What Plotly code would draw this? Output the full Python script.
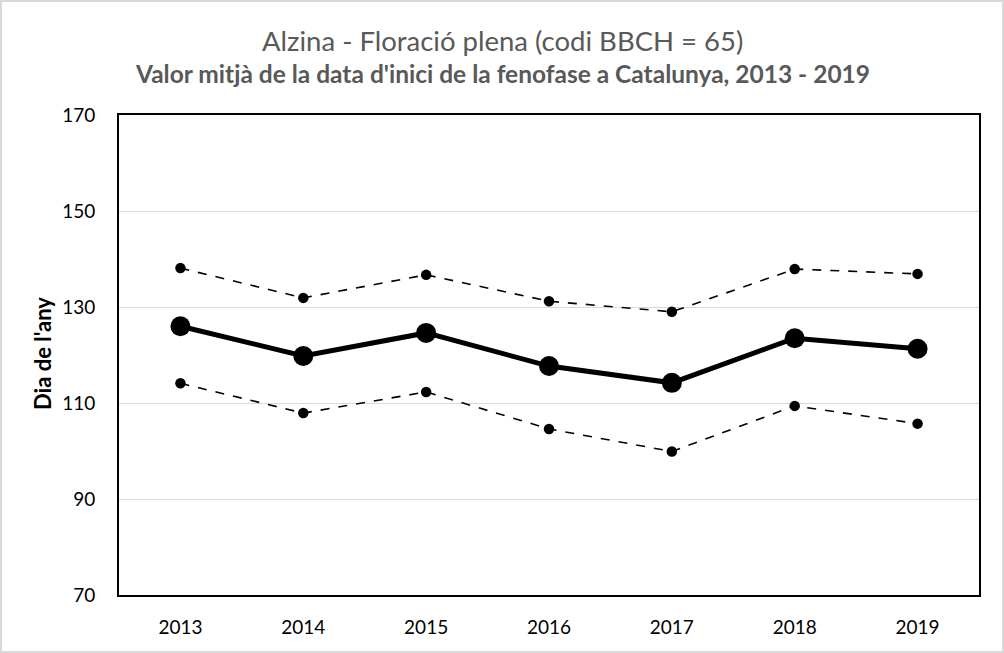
import plotly.graph_objects as go

years = ["2013", "2014", "2015", "2016", "2017", "2018", "2019"]
mean_vals = [126.0, 119.8, 124.6, 117.7, 114.2, 123.5, 121.3]
upper_vals = [138.1, 131.9, 136.7, 131.2, 129.0, 137.9, 136.9]
lower_vals = [114.1, 107.9, 112.3, 104.6, 99.9, 109.4, 105.7]
y_ticks = [70, 90, 110, 130, 150, 170]

title_text = "Alzina - Floració plena (codi BBCH = 65)"
subtitle_text = "Valor mitjà de la data d'inici de la fenofase a Catalunya, 2013 - 2019"
y_title = "Dia de l'any"

W, H = 1004, 653
ml, mr, mt, mb = 119, 25, 115, 58
pw, ph = W - ml - mr, H - mt - mb

fig = go.Figure()
for vals in (upper_vals, lower_vals):
    fig.add_trace(go.Scatter(
        x=years, y=vals, mode="lines+markers",
        line=dict(color="black", width=1.6, dash="dash"),
        marker=dict(color="black", size=10.5),
        showlegend=False, hoverinfo="y"))
fig.add_trace(go.Scatter(
    x=years, y=mean_vals, mode="lines+markers",
    line=dict(color="black", width=5),
    marker=dict(color="black", size=20),
    showlegend=False, hoverinfo="y"))

font_family = "Lato, 'Open Sans', sans-serif"
fig.update_layout(
    width=W, height=H,
    margin=dict(l=ml, r=mr, t=mt, b=mb, pad=0),
    paper_bgcolor="white", plot_bgcolor="white",
    font=dict(family=font_family, color="black", size=19),
    xaxis=dict(type="category", range=[-0.5, 6.5], showgrid=False,
               showline=True, linecolor="black", linewidth=2, mirror=True,
               ticks="", ticklabelstandoff=14,
               tickfont=dict(size=19, color="black")),
    yaxis=dict(range=[70, 170], tickvals=y_ticks, showgrid=True,
               gridcolor="#d9d9d9", gridwidth=1,
               showline=True, linecolor="black", linewidth=2, mirror=True,
               ticks="", ticklabelstandoff=18, zeroline=False,
               tickfont=dict(size=19, color="black")),
    shapes=[dict(type="rect", xref="paper", yref="paper",
                 x0=-ml / pw + 1 / pw, x1=1 + (mr - 1) / pw,
                 y0=-mb / ph + 1 / ph, y1=1 + (mt - 1) / ph,
                 line=dict(color="#d9d9d9", width=2), layer="below")],
    annotations=[
        dict(text=title_text, xref="paper", yref="paper",
             x=(W / 2 - ml) / pw, y=1 + (mt - 40) / ph,
             xanchor="center", yanchor="middle", showarrow=False,
             font=dict(size=27.5, color="#595959", family=font_family)),
        dict(text="<b>" + subtitle_text + "</b>", xref="paper", yref="paper",
             x=(W / 2 - ml) / pw, y=1 + (mt - 73) / ph,
             xanchor="center", yanchor="middle", showarrow=False,
             font=dict(size=24.5, color="#595959", family=font_family)),
        dict(text="<b>" + y_title + "</b>", xref="paper", yref="paper",
             x=(42 - ml) / pw, y=1 - (354 - mt) / ph, textangle=-90,
             xanchor="center", yanchor="middle", showarrow=False,
             font=dict(size=22, color="black", family=font_family)),
    ],
)
fig.write_html("out.html", config={"displayModeBar": False},
               post_script="document.body.style.margin='0';document.body.style.padding='0';")
